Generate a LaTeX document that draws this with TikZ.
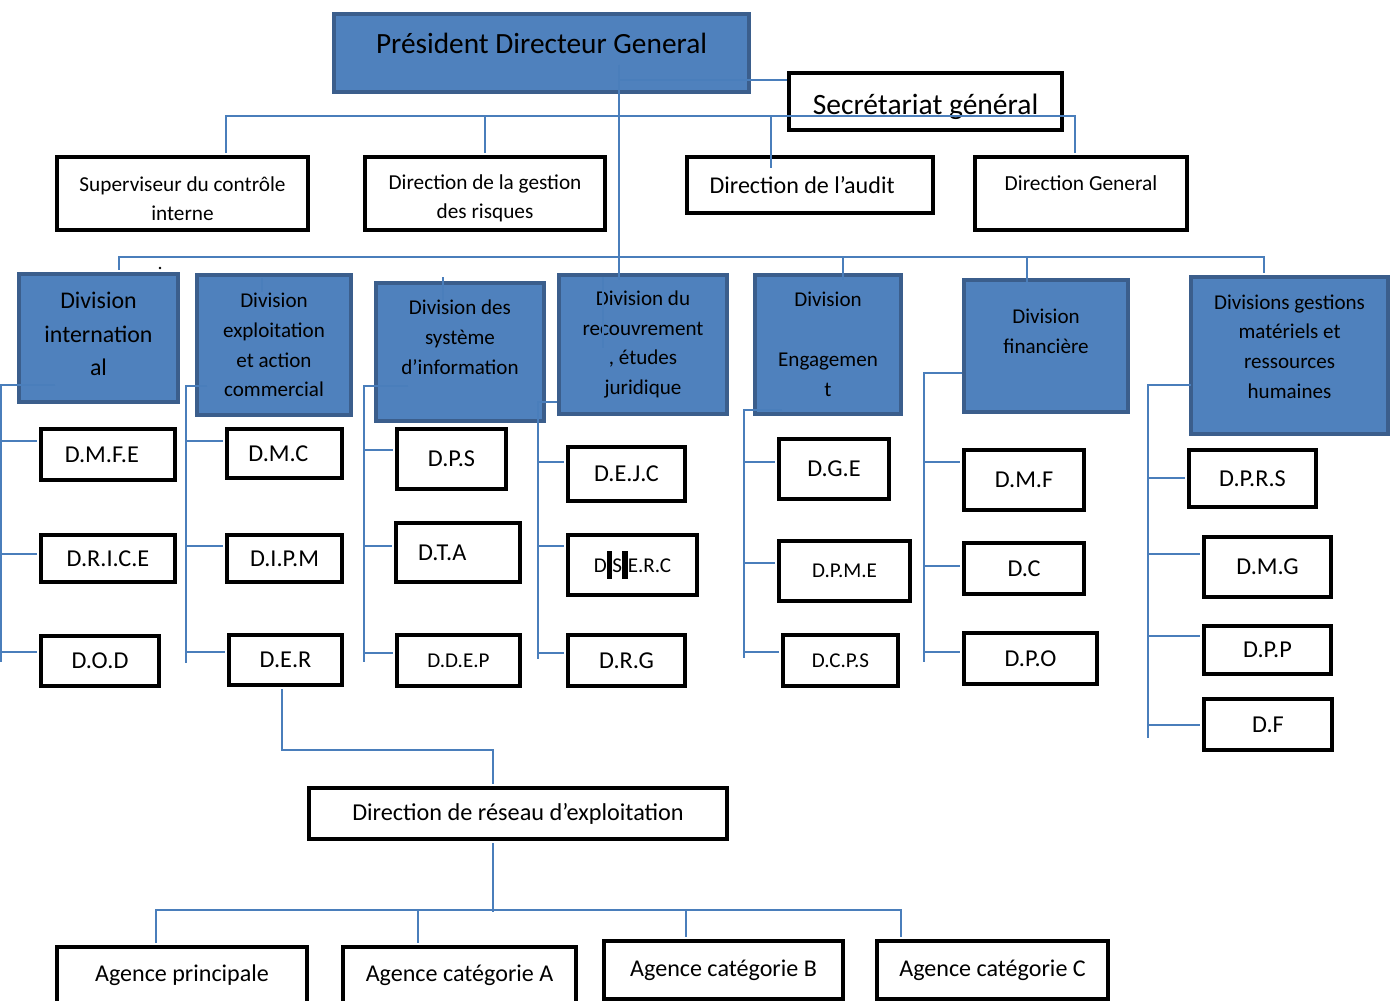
\documentclass[tikz,border=0pt]{standalone}
\usepackage{fontspec}
\setmainfont{Carlito}
\usepackage{tikz}
\usetikzlibrary{calc}
\definecolor{divfill}{HTML}{4F81BD}
\definecolor{divborder}{HTML}{3B5E8C}
\definecolor{linkblue}{HTML}{4A7EBB}

\begin{document}
\begin{tikzpicture}[x=0.02cm, y=-0.02cm,
  divbox/.style={draw=divborder, fill=divfill, line width=2.3pt, inner sep=0pt,
    align=center, font=\fontsize{12}{17}\selectfont},
  unitbox/.style={draw=black, fill=white, line width=2.3pt, inner sep=0pt,
    align=center, font=\fontsize{13.8}{16}\selectfont},
  link/.style={draw=linkblue, line width=1.15pt},
  tolink/.style={link, shorten >=1.15pt},
  bothlink/.style={link, shorten <=1.15pt, shorten >=1.15pt}]

\useasboundingbox (0,0) rectangle (1391,1000);
\clip (0,0) rectangle (1391,1000);

%-- head and staff boxes
\node[divbox, minimum width=8.30cm, minimum height=1.56cm, font=\fontsize{16.7}{20}\selectfont]
  (pdg) at (541.5,53) {Président Directeur General\\[-8.6pt]\mbox{}};
\node[unitbox, minimum width=5.46cm, minimum height=1.14cm, font=\fontsize{16.8}{20}\selectfont]
  (sec) at (925.5,101.5) {\rule{0pt}{17.5pt}Secrétariat général};
\node[unitbox, minimum width=5.02cm, minimum height=1.46cm, font=\fontsize{12.1}{16.5}\selectfont]
  (sup) at (182.5,193.5) {\rule{0pt}{14pt}Superviseur du contrôle\\interne};
\node[unitbox, minimum width=4.80cm, minimum height=1.46cm, font=\fontsize{12.1}{16.5}\selectfont]
  (risk) at (485,193.5) {\rule{0pt}{14pt}Direction de la gestion\\des risques};
\node[unitbox, minimum width=4.92cm, minimum height=1.12cm, font=\fontsize{13.7}{16}\selectfont]
  (audit) at (810,185) {Direction de l’audit\hspace*{9pt}\mbox{}};
\node[unitbox, minimum width=4.24cm, minimum height=1.46cm, font=\fontsize{12.2}{14.6}\selectfont]
  (dg) at (1081,193.5) {Direction General\\[-3pt]\mbox{}};

%-- divisions
\node[divbox, minimum width=3.18cm, minimum height=2.56cm, font=\fontsize{13.6}{19}\selectfont]
  (div1) at (98.5,338) {Division\\internation\\al\\[-14.4pt]\mbox{}};
\node[divbox, minimum width=3.08cm, minimum height=2.80cm]
  (div2) at (274,345) {Division\\exploitation\\et action\\commercial};
\node[divbox, minimum width=3.36cm, minimum height=2.76cm]
  (div3) at (460,352) {Division des\\système\\d’information\\\mbox{}};
\node[divbox, minimum width=3.36cm, minimum height=2.78cm]
  (div4) at (643,344.5) {Division du\\recouvrement\\, études\\juridique};
\node[divbox, minimum width=2.92cm, minimum height=2.78cm]
  (div5) at (828,344.5) {Division\\\mbox{}\\Engagemen\\t};
\node[divbox, minimum width=3.28cm, minimum height=2.64cm]
  (div6) at (1046,346) {Division\\financière\\\mbox{}};
\node[divbox, minimum width=3.94cm, minimum height=3.14cm]
  (div7) at (1289.5,355.5) {Divisions gestions\\matériels et\\ressources\\humaines\\[-6.8pt]\mbox{}};

%-- directions under each division
\node[unitbox, minimum width=2.68cm, minimum height=1.02cm] (dmfe)  at (108,454.5)  {D.M.F.E\hspace*{7pt}\mbox{}};
\node[unitbox, minimum width=2.68cm, minimum height=0.94cm] (drice) at (108,558.5)  {D.R.I.C.E};
\node[unitbox, minimum width=2.36cm, minimum height=1.00cm] (dod)   at (100,661)    {D.O.D};
\node[unitbox, minimum width=2.30cm, minimum height=0.98cm] (dmc)   at (284.5,453.5) {D.M.C\hspace*{7pt}\mbox{}};
\node[unitbox, minimum width=2.30cm, minimum height=0.94cm] (dipm)  at (284.5,558.5) {D.I.P.M};
\node[unitbox, minimum width=2.26cm, minimum height=1.00cm] (der)   at (285.5,660)  {D.E.R};
\node[unitbox, minimum width=2.18cm, minimum height=1.20cm] (dps)   at (451.5,459)  {D.P.S};
\node[unitbox, minimum width=2.48cm, minimum height=1.18cm] (dta)   at (458,552.5)  {D.T.A\hspace*{18pt}\mbox{}};
\node[unitbox, minimum width=2.46cm, minimum height=1.02cm, font=\fontsize{12}{15}\selectfont]
  (ddep) at (458.5,660.5) {D.D.E.P};
\node[unitbox, minimum width=2.34cm, minimum height=1.08cm] (dejc)  at (626.5,474)  {D.E.J.C};
\node[unitbox, minimum width=2.58cm, minimum height=1.20cm, font=\fontsize{12}{15}\selectfont]
  (dserc) at (632.5,565) {D\rule[-3.4pt]{3.2pt}{15.4pt}S\rule[-3.4pt]{3.2pt}{15.4pt}E.R.C};
\node[unitbox, minimum width=2.34cm, minimum height=1.02cm] (drg)   at (626.5,660.5) {D.R.G};
\node[unitbox, minimum width=2.20cm, minimum height=1.20cm] (dge)   at (834,469)    {D.G.E};
\node[unitbox, minimum width=2.62cm, minimum height=1.20cm, font=\fontsize{12}{15}\selectfont]
  (dpme) at (844.5,571) {D.P.M.E};
\node[unitbox, minimum width=2.30cm, minimum height=1.02cm, font=\fontsize{12}{15}\selectfont]
  (dcps) at (840.5,660.5) {D.C.P.S};
\node[unitbox, minimum width=2.40cm, minimum height=1.20cm] (dmf)   at (1024,480)   {D.M.F};
\node[unitbox, minimum width=2.40cm, minimum height=1.02cm] (dc)    at (1024,568.5) {D.C};
\node[unitbox, minimum width=2.66cm, minimum height=1.02cm] (dpo)   at (1030.5,658.5) {D.P.O};
\node[unitbox, minimum width=2.54cm, minimum height=1.14cm] (dprs)  at (1252.5,478.5) {D.P.R.S};
\node[unitbox, minimum width=2.54cm, minimum height=1.20cm] (dmg)   at (1267.5,567) {D.M.G};
\node[unitbox, minimum width=2.54cm, minimum height=0.96cm] (dpp)   at (1267.5,650) {D.P.P};
\node[unitbox, minimum width=2.56cm, minimum height=1.02cm] (dfn)   at (1268,724.5) {D.F};

%-- network and agencies
\node[unitbox, minimum width=8.36cm, minimum height=1.02cm, font=\fontsize{13.8}{16}\selectfont]
  (reseau) at (518,813.5) {Direction de réseau d’exploitation};
\node[unitbox, minimum width=5.00cm, minimum height=1.12cm, font=\fontsize{13.7}{16}\selectfont]
  (ap) at (182,975) {Agence principale};
\node[unitbox, minimum width=4.66cm, minimum height=1.12cm, font=\fontsize{13.7}{16}\selectfont]
  (aa) at (459.5,975) {Agence catégorie A};
\node[unitbox, minimum width=4.78cm, minimum height=1.16cm, font=\fontsize{13.7}{16}\selectfont]
  (ab) at (723.5,970) {Agence catégorie B};
\node[unitbox, minimum width=4.62cm, minimum height=1.16cm, font=\fontsize{13.7}{16}\selectfont]
  (ac) at (992.5,970) {Agence catégorie C};

%-- links from the head
\coordinate (pdgIn)  at (619,65);
\coordinate (pdgSec) at (619,80);
\coordinate (mainEnd) at (619,280);
\draw[link] (pdgIn) -- (mainEnd);
\draw[link] (pdgSec) -- (pdgSec -| sec.west);

\coordinate (busL) at (226,116);
\coordinate (busR) at (1075,116);
\coordinate (auditIn) at (771,168);
\draw[bothlink] (sup.north -| busL) -- (busL) -- (busR) -- (dg.north -| busR);
\draw[tolink] (busL -| risk.north) -- (risk.north);
\draw[link] (auditIn |- busL) -- (auditIn);

%-- division bus
\coordinate (dbusL) at (119,257);
\coordinate (dbusR) at (1264,257);
\draw[bothlink] (div1.north -| dbusL) -- (dbusL) -- (dbusR) -- (div7.north -| dbusR);
\foreach \x/\y in {843/280, 1027/282}
  \draw[link] (dbusL -| \x,0) -- (\x,\y);
\foreach \x/\a/\b in {262/278/292, 443/277/300, 603/277/348}
  \draw[link] (\x,\a) -- (\x,\b);
\fill[black] (160,268) circle (1.3);

%-- column trunks
\coordinate (h1) at (55,385);   \coordinate (t1) at (1,662);
\coordinate (h2) at (207,386);  \coordinate (t2) at (186,663);
\coordinate (h3) at (408,386);  \coordinate (t3) at (364,662);
\coordinate (h4) at (557,402);  \coordinate (t4) at (538,659);
\coordinate (h5) at (782,410);  \coordinate (t5) at (744,658);
\coordinate (h6) at (962,373);  \coordinate (t6) at (924,662);
\coordinate (h7) at (1191,385); \coordinate (t7) at (1148,738);
\foreach \i in {1,...,7}
  \draw[link] (h\i) -| (t\i);

\foreach \t/\s/\y in {t1/dmfe/441, t1/drice/554, t1/dod/652,
                      t2/dmc/441, t2/dipm/546, t2/der/652,
                      t3/dps/450, t3/dta/546, t3/ddep/653,
                      t4/dejc/462, t4/dserc/546, t4/drg/653,
                      t5/dge/462, t5/dpme/563, t5/dcps/652,
                      t6/dmf/462, t6/dc/566, t6/dpo/652,
                      t7/dprs/478, t7/dmg/554, t7/dpp/636, t7/dfn/725}
  \draw[tolink] (\t |- 0,\y) -- (\s.west |- 0,\y);

%-- network links
\coordinate (rA) at (282,750);
\coordinate (rB) at (493,750);
\draw[bothlink] (rA |- der.south) -- (rA) -- (rB) -- (rB |- reseau.north);

\coordinate (aL) at (156,910);
\coordinate (aR) at (901,910);
\coordinate (aM) at (493,912);
\draw[link, shorten <=1.15pt] (rB |- reseau.south) -- (aM);
\draw[bothlink] (ap.north -| aL) -- (aL) -- (aR) -- (ac.north -| aR);
\foreach \x/\a in {418/aa, 686/ab}
  \draw[tolink] (aL -| \x,0) -- (\a.north -| \x,0);

\end{tikzpicture}
\end{document}
